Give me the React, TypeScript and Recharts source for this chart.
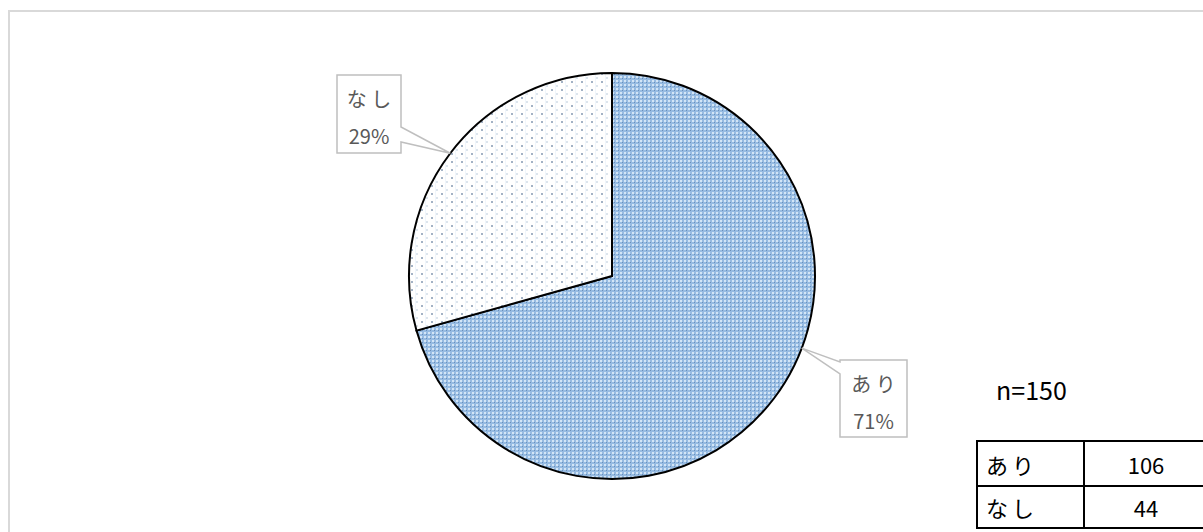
import React from 'react';
import { PieChart, Pie, Cell } from 'recharts';

const CATEGORIES = ['あり', 'なし'];
const COUNTS = [106, 44];
const TOTAL_LABEL = 'n=150';

const FILLS = ['url(#patAri)', 'url(#patNashi)'];

// callout placement, relative to pie centre
const CALLOUTS = [
  { dx: 228, dy: 84, w: 67, h: 77, side: 'left', a1: 2, a2: 14, tipShift: 16.4 },
  { dx: -275, dy: -201, w: 64, h: 78, side: 'right', a1: 52, a2: 67, tipShift: 0 },
];

const FONT = '"Noto Sans CJK JP", "Noto Sans", sans-serif';
const RADIAN = Math.PI / 180;

const pieData = CATEGORIES.map((name, i) => ({ name, value: COUNTS[i] }));

const renderCallout = ({ cx, cy, midAngle, outerRadius, percent, index }: any) => {
  const c = CALLOUTS[index];
  const ang = (midAngle + c.tipShift) * RADIAN;
  const tx = cx + outerRadius * Math.cos(ang);
  const ty = cy - outerRadius * Math.sin(ang);
  const L = cx + c.dx;
  const T = cy + c.dy;
  const R = L + c.w;
  const B = T + c.h;
  const d =
    c.side === 'right'
      ? `M${L},${T} H${R} V${T + c.a1} L${tx},${ty} L${R},${T + c.a2} V${B} H${L} Z`
      : `M${L},${T} H${R} V${B} H${L} V${T + c.a2} L${tx},${ty} L${L},${T + c.a1} Z`;
  const mx = L + c.w / 2;
  return (
    <g>
      <path d={d} fill="#ffffff" stroke="#bfbfbf" strokeWidth={1.5} />
      <text x={mx} y={T + 23} textAnchor="middle" dominantBaseline="central" fill="#595959" fontSize={20} fontFamily={FONT}>
        {CATEGORIES[index].split('').join(' ')}
      </text>
      <text x={mx} y={T + 60} textAnchor="middle" dominantBaseline="central" fill="#595959" fontSize={20} fontFamily={FONT}>
        {`${Math.round(percent * 100)}%`}
      </text>
    </g>
  );
};

export default function App() {
  return (
    <div style={{ position: 'absolute', left: 0, top: 0, width: 1203, height: 532, overflow: 'hidden', background: '#fff', fontFamily: FONT }}>
      <div style={{ position: 'absolute', left: 8, top: 10, width: 1400, height: 800, borderTop: '2px solid #d9d9d9', borderLeft: '2px solid #d9d9d9' }} />
      <PieChart width={1203} height={532} margin={{ top: 0, right: 0, bottom: 0, left: 0 }} style={{ position: 'absolute', left: 0, top: 0 }}>
        <defs>
          <pattern id="patAri" width="4" height="4" patternUnits="userSpaceOnUse">
            <rect width="4" height="4" fill="#96bbe2" />
            <rect x="0" y="0" width="2" height="2" fill="#d3e5f6" />
            <rect x="2" y="2" width="1" height="1" fill="#6a8fba" />
          </pattern>
          <pattern id="patNashi" width="10" height="8" patternUnits="userSpaceOnUse">
            <rect width="10" height="8" fill="#ffffff" />
            <rect x="5" y="0" width="1" height="8" fill="#f0f6fc" />
            <circle cx="2" cy="2" r="1" fill="#8498b2" />
            <circle cx="7" cy="6" r="0.8" fill="#b3c4d8" />
          </pattern>
        </defs>
        <Pie
          data={pieData}
          dataKey="value"
          nameKey="name"
          cx={612}
          cy={276}
          outerRadius={203}
          startAngle={90}
          endAngle={-270}
          stroke="#000000"
          strokeWidth={2}
          labelLine={false}
          label={renderCallout}
          isAnimationActive={false}
        >
          {pieData.map((entry, i) => (
            <Cell key={`cell-${i}`} fill={FILLS[i]} />
          ))}
        </Pie>
      </PieChart>
      <div style={{ position: 'absolute', left: 996, top: 374, fontSize: 25, color: '#000', lineHeight: '30px' }}>{TOTAL_LABEL}</div>
      <div style={{ position: 'absolute', left: 976, top: 440, width: 320 }}>
        <table style={{ borderCollapse: 'collapse', tableLayout: 'fixed', width: 307, fontSize: 22, color: '#000' }}>
          <tbody>
            {CATEGORIES.map((name, i) => (
              <tr key={name} style={{ height: i === 0 ? 45 : 42 }}>
                <td style={{ border: '2px solid #000', width: 107, padding: '0 0 0 8px', letterSpacing: 4, boxSizing: 'border-box' }}>{name}</td>
                <td style={{ border: '2px solid #000', width: 200, textAlign: 'center', padding: '0 76px 0 0', boxSizing: 'border-box' }}>{COUNTS[i]}</td>
              </tr>
            ))}
          </tbody>
        </table>
      </div>
    </div>
  );
}
